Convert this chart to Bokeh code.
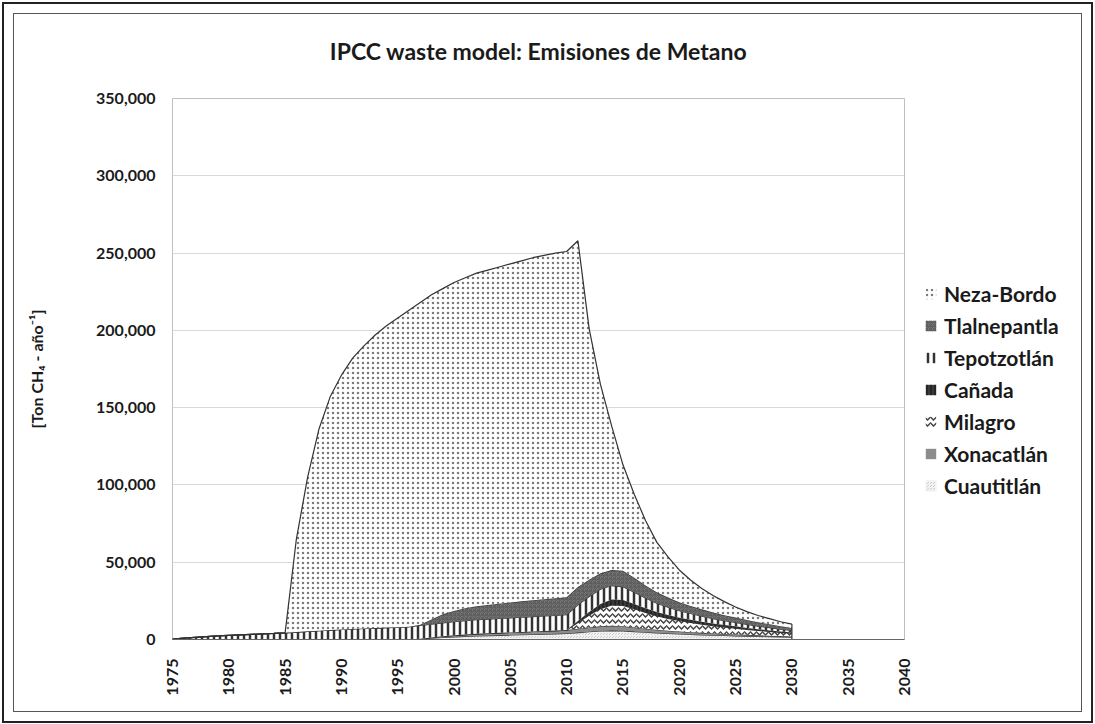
import math
from bokeh.plotting import figure
from bokeh.layouts import row
from bokeh.models import (Legend, LegendItem, NumeralTickFormatter, FixedTicker, Range1d,
                          ColumnDataSource)
from bokeh.transform import stack
from bokeh.embed import file_html
from bokeh.resources import INLINE

years = list(range(1975, 2031))

cuautitlan = [0] * 20 + [
    0, 0, 300, 800, 1300, 1700, 2000, 2300, 2500, 2700,
    2900, 3100, 3300, 3500, 3700, 3900, 4500, 5000, 5500, 5800,
    5600, 5100, 4700, 4300, 3900, 3600, 3300, 3000, 2800, 2600,
    2400, 2200, 2000, 1800, 1700, 1500]
xonacatlan = [0] * 20 + [
    0, 0, 200, 500, 800, 1000, 1200, 1400, 1500, 1600,
    1700, 1800, 1900, 2000, 2100, 2200, 2500, 2800, 3000, 3100,
    3000, 2700, 2300, 2000, 1800, 1600, 1400, 1300, 1100, 1000,
    900, 800, 700, 600, 500, 500]
milagro = [0] * 36 + [
    4000, 8000, 11500, 13500,
    13500, 12100, 10500, 9100, 8000, 7100, 6400, 5700, 5100, 4500,
    4100, 3600, 3200, 2800, 2400, 2100]
canada = [0] * 36 + [
    1000, 2000, 3000, 3500,
    3500, 3100, 2700, 2400, 2100, 1800, 1700, 1500, 1300, 1200,
    1100, 900, 800, 700, 600, 500]
tepotzotlan = [
    200, 900, 1400, 1900, 2300, 2700, 3000, 3300, 3600, 3900,
    4300, 4800, 5300, 5700, 6100, 6500, 6800, 7100, 7400, 7700,
    8000, 8300, 8600, 8600, 8700, 8800, 9000, 9100, 9200, 9300,
    9400, 9500, 9600, 9700, 9800, 9900, 10500, 10000, 9500, 9000,
    8500, 7600, 6600, 5700, 5100, 4500, 4000, 3600, 3200, 2900,
    2600, 2300, 2000, 1800, 1500, 1300]
tlalnepantla = [0] * 20 + [
    0, 0, 500, 3000, 5500, 7000, 8000, 8700, 9200, 9600,
    10000, 10300, 10600, 10900, 11100, 11300, 11500, 10800, 10300, 10000,
    10400, 9400, 8100, 7000, 6200, 5500, 4900, 4400, 3900, 3500,
    3100, 2800, 2500, 2200, 1900, 1600]
neza_bordo = [0] * 10 + [
    0, 60200, 99700, 130300, 150900, 164500, 175200, 182900, 189600, 195300,
    200000, 204700, 208400, 210100, 210700, 212500, 213800, 215500, 216600, 217800,
    219000, 220300, 221600, 222400, 223300, 223700, 224000, 162400, 122200, 93100,
    68500, 54000, 42100, 32500, 26400, 20900, 16800, 13500, 11100, 8800,
    6800, 5400, 4300, 3600, 2900, 2500]

series_keys = ["cuautitlan", "xonacatlan", "milagro", "canada", "tepotzotlan", "tlalnepantla", "neza_bordo"]
series_labels = ["Cuautitlán", "Xonacatlán", "Milagro", "Cañada", "Tepotzotlán", "Tlalnepantla", "Neza-Bordo"]
series_data = [cuautitlan, xonacatlan, milagro, canada, tepotzotlan, tlalnepantla, neza_bordo]

x_ticks = list(range(1975, 2041, 5))
y_ticks = list(range(0, 350001, 50000))

title_text = "IPCC waste model: Emisiones de Metano"
y_label = "[Ton CH\u2084 - a\u00f1o\u207b\u00b9]"

FONT = "Lato"

src = ColumnDataSource(dict(year=years, **{k: v for k, v in zip(series_keys, series_data)}))

p = figure(frame_width=732, frame_height=541, output_backend="svg", toolbar_location=None,
           x_range=Range1d(1975, 2040), y_range=Range1d(0, 350000),
           min_border_left=172, min_border_right=15, min_border_top=97, min_border_bottom=86)

styles = [
    dict(fill_color="#cfcfcf", hatch_pattern="criss_cross", hatch_color="#f2f2f2", hatch_scale=3, hatch_weight=1),
    dict(fill_color="#8c8c8c"),
    dict(fill_color="white", hatch_pattern="horizontal_wave", hatch_color="#444444", hatch_scale=6, hatch_weight=1.5),
    dict(fill_color="#3a3a3a", hatch_pattern="vertical_line", hatch_color="#111111", hatch_scale=4, hatch_weight=1),
    dict(fill_color="white", hatch_pattern="vertical_line", hatch_color="#333333", hatch_scale=6, hatch_weight=2.5),
    dict(fill_color="#7a7a7a", hatch_pattern="criss_cross", hatch_color="#5a5a5a", hatch_scale=4, hatch_weight=1),
    dict(fill_color="white", hatch_pattern="dot", hatch_color="#7a7a7a", hatch_scale=5, hatch_weight=1),
]

for i, key in enumerate(series_keys):
    p.varea(x="year", y1=stack(*series_keys[:i]), y2=stack(*series_keys[:i + 1]), source=src, **styles[i])
    p.line(x="year", y=stack(*series_keys[:i + 1]), source=src, line_color="#333333", line_width=1.2)

last_total = sum(s[-1] for s in series_data)
p.segment(x0=[years[-1]], y0=[0], x1=[years[-1]], y1=[last_total], line_color="#333333", line_width=1.2)

# axes
p.xaxis.ticker = FixedTicker(ticks=x_ticks)
p.yaxis.ticker = FixedTicker(ticks=y_ticks)
p.yaxis.formatter = NumeralTickFormatter(format="0,0")
p.xaxis.major_label_orientation = math.pi / 2
for ax in (p.xaxis, p.yaxis):
    ax.major_label_text_font = FONT
    ax.major_label_text_font_style = "bold"
    ax.major_label_text_font_size = "16px"
    ax.major_label_text_color = "#1a1a1a"
    ax.major_tick_line_color = None
    ax.minor_tick_line_color = None
p.xaxis.axis_line_color = "#666666"
p.yaxis.axis_line_color = None
p.yaxis.major_label_standoff = 11
p.xaxis.major_label_standoff = 13
p.yaxis.axis_label = y_label
p.yaxis.axis_label_text_font = FONT
p.yaxis.axis_label_text_font_style = "bold"
p.yaxis.axis_label_text_font_size = "16px"
p.yaxis.axis_label_text_color = "#1a1a1a"
p.yaxis.axis_label_standoff = 47

p.xgrid.visible = False
p.ygrid.grid_line_color = "#d9d9d9"
p.outline_line_color = "#bfbfbf"
p.background_fill_color = "white"
p.border_fill_alpha = 0

# title
p.title.text = title_text
p.title.align = "center"
p.title.text_font = FONT
p.title.text_font_style = "bold"
p.title.text_font_size = "23px"
p.title.text_color = "#1a1a1a"
p.title.standoff = 68

# legend panel (swatch renderers share the area styles; their data lie outside the view)
q = figure(width=176, height=724, output_backend="svg", toolbar_location=None,
           x_range=Range1d(0, 1), y_range=Range1d(0, 1), x_axis_type=None, y_axis_type=None,
           min_border=0)
q.grid.visible = False
q.outline_line_color = None
q.background_fill_alpha = 0
q.border_fill_alpha = 0
legend_renderers = [q.varea(x=[5, 6], y1=[5, 5], y2=[6, 6], **styles[i]) for i in range(len(series_keys))]
items = [LegendItem(label=series_labels[i], renderers=[legend_renderers[i]])
         for i in reversed(range(len(series_keys)))]
legend = Legend(items=items, location=(5, 140), border_line_color=None, background_fill_alpha=0,
                label_text_font=FONT, label_text_font_style="bold", label_text_font_size="21px",
                label_text_color="#1a1a1a", glyph_width=13, glyph_height=13, label_height=21,
                spacing=7, label_standoff=7, padding=4, margin=0)
q.add_layout(legend)

# page wrapper with the chart's outer and inner border
root = row(p, q, styles={
    "background-color": "white",
    "box-shadow": "inset 0 0 0 2px white, inset 0 0 0 4px #222222, "
                  "inset 0 0 0 13px white, inset 0 0 0 14px #555555",
})

open("out.html", "w").write(file_html(root, INLINE))
